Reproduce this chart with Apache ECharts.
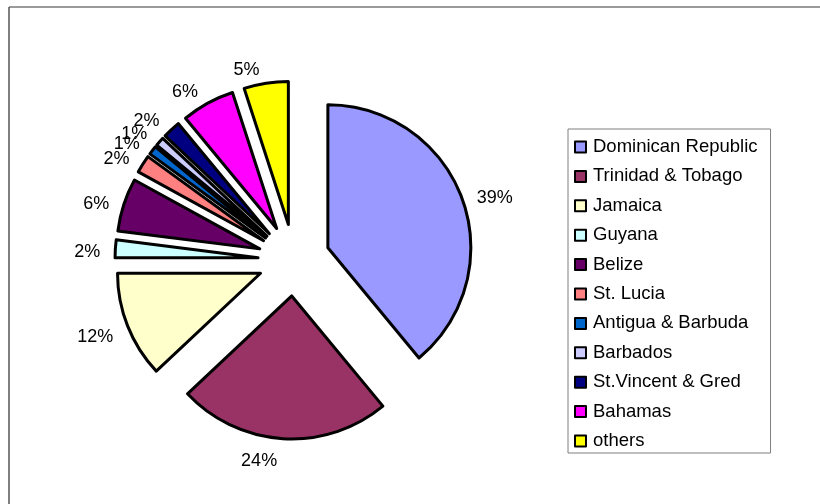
<!DOCTYPE html>
<html>
<head>
<meta charset="utf-8">
<script src="https://cdn.jsdelivr.net/npm/echarts@6/dist/echarts.min.js"></script>
<style>
  html, body { margin: 0; padding: 0; background: #ffffff; }
  #chart { width: 820px; height: 504px; }
</style>
</head>
<body>
<div id="chart"></div>
<script>
// Share of total by country (percent)
const countries = [
  'Dominican Republic', 'Trinidad & Tobago', 'Jamaica', 'Guyana', 'Belize',
  'St. Lucia', 'Antigua & Barbuda', 'Barbados', 'St.Vincent & Gred', 'Bahamas', 'others'
];
const shares = [39, 24, 12, 2, 6, 2, 1, 1, 2, 6, 5];
const sliceColors = [
  '#9999FF', '#993366', '#FFFFCC', '#CCFFFF', '#660066',
  '#FF8080', '#0066CC', '#CCCCFF', '#000080', '#FF00FF', '#FFFF00'
];

const PIE_CENTER = [294, 260];

const chart = echarts.init(document.getElementById('chart'), null, { renderer: 'canvas' });

const pieData = countries.map((name, i) => ({
  name: name,
  value: shares[i],
  selected: true,
  itemStyle: { color: sliceColors[i] }
}));

// Push each percentage label a little further out vertically, so labels above
// the pie sit higher and labels below it sit lower.
function placeLabel(params) {
  const r = params.labelRect;
  const lx = r.x + r.width / 2 - PIE_CENTER[0];
  const ly = r.y + r.height / 2 - PIE_CENTER[1];
  const len = Math.sqrt(lx * lx + ly * ly) || 1;
  const uy = ly / len;
  return { hideOverlap: false, moveOverlap: null, dy: 8.5 * uy + 4.5 };
}

chart.setOption({
  backgroundColor: '#ffffff',
  animation: false,
  graphic: [
    { type: 'line', shape: { x1: 9, y1: 7, x2: 820, y2: 7 }, style: { stroke: '#9a9a9a', lineWidth: 2 } },
    { type: 'line', shape: { x1: 9, y1: 7, x2: 9, y2: 504 }, style: { stroke: '#555555', lineWidth: 1.5 } }
  ],
  legend: {
    orient: 'vertical',
    left: 568,
    top: 129,
    padding: [8, 13, 2, 6],
    itemGap: 9.4,
    itemWidth: 11,
    itemHeight: 11,
    icon: 'rect',
    borderColor: '#7f7f7f',
    borderWidth: 1,
    selectedMode: false,
    itemStyle: { borderColor: '#000000', borderWidth: 2 },
    textStyle: {
      fontFamily: 'Liberation Sans, Arial, sans-serif',
      fontSize: 18.5,
      lineHeight: 20,
      color: '#000000',
      padding: [0, 0, 0, 2]
    },
    data: countries
  },
  series: [{
    type: 'pie',
    center: PIE_CENTER,
    radius: 143,
    startAngle: 90,
    clockwise: true,
    selectedMode: 'multiple',
    selectedOffset: 36,
    avoidLabelOverlap: false,
    percentPrecision: 0,
    minShowLabelAngle: 0,
    emphasis: { disabled: true },
    itemStyle: { borderColor: '#000000', borderWidth: 3 },
    select: { itemStyle: { borderColor: '#000000', borderWidth: 3 } },
    label: {
      show: true,
      position: 'outside',
      formatter: '{d}%',
      fontFamily: 'Liberation Sans, Arial, sans-serif',
      fontSize: 18,
      color: '#000000'
    },
    labelLine: { show: false, length: 10, length2: 0 },
    labelLayout: placeLabel,
    data: pieData
  }]
});
</script>
</body>
</html>
